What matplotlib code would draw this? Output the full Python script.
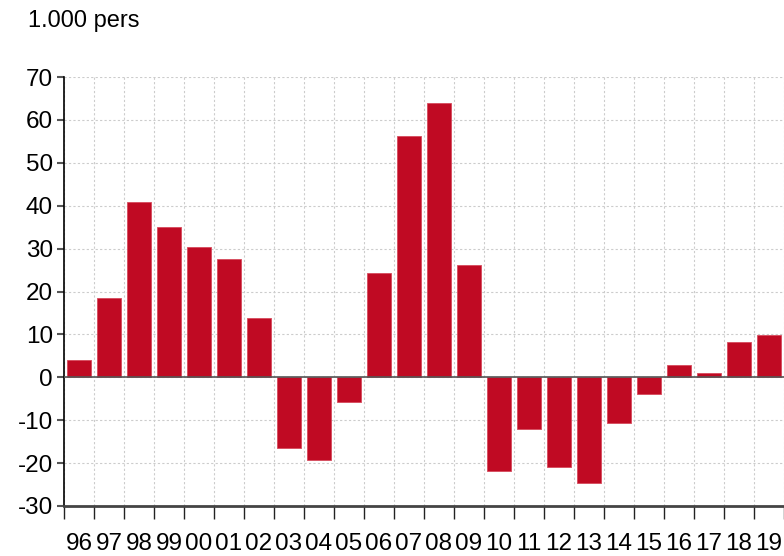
import numpy as np
import matplotlib.pyplot as plt
from matplotlib.ticker import FixedLocator, NullFormatter

plt.rcParams['font.family'] = ['Liberation Sans', 'DejaVu Sans']
plt.rcParams['axes.unicode_minus'] = False

# data
years = ['96', '97', '98', '99', '00', '01', '02', '03', '04', '05', '06', '07',
         '08', '09', '10', '11', '12', '13', '14', '15', '16', '17', '18', '19']
values = [4.0, 18.4, 40.9, 35.0, 30.3, 27.5, 13.8, -16.5, -19.3, -5.8, 24.2, 56.2,
          64.0, 26.1, -21.8, -12.1, -20.8, -24.7, -10.6, -3.8, 2.8, 0.9, 8.3, 9.8]

fig = plt.figure(figsize=(7.84, 5.56), dpi=100)
ax = fig.add_axes([64/784, 50/556, 720/784, 429/556])

x = np.arange(len(years))
ax.bar(x, values, width=0.77, color='#c00a23', edgecolor='#d64a5c', linewidth=0.6, zorder=3)
ax.axhline(0, color='#555555', linewidth=1.2, zorder=4)

ax.set_xlim(-0.5, len(years) - 0.5)
ax.set_ylim(-30, 70)
ax.set_yticks(range(-30, 71, 10))

ax.set_xticks(x)
ax.set_xticklabels(years)
ax.xaxis.set_minor_locator(FixedLocator(np.arange(-0.5, len(years), 1.0)))
ax.xaxis.set_minor_formatter(NullFormatter())
ax.tick_params(axis='x', which='major', length=0, pad=19.5, labelsize=17.5)
ax.tick_params(axis='x', which='minor', length=9, width=1, color='#222222', direction='out')
ax.tick_params(axis='y', length=5, width=1.5, color='#555555', labelsize=17.5, pad=3)

ax.grid(axis='y', which='major', color='#cccccc', linestyle=(0, (2, 2)), linewidth=0.8, zorder=0)
ax.grid(axis='x', which='minor', color='#cccccc', linestyle=(0, (2, 2)), linewidth=0.8, zorder=0)

for s in ['top', 'right']:
    ax.spines[s].set_visible(False)
ax.spines['left'].set_color('#000000')
ax.spines['left'].set_linewidth(1.2)
ax.spines['bottom'].set_color('#444444')
ax.spines['bottom'].set_linewidth(2)

fig.text(28/784, 1 - 21/556, '1.000 pers', fontsize=17, va='center', ha='left')

fig.savefig('out.png', dpi=100)
